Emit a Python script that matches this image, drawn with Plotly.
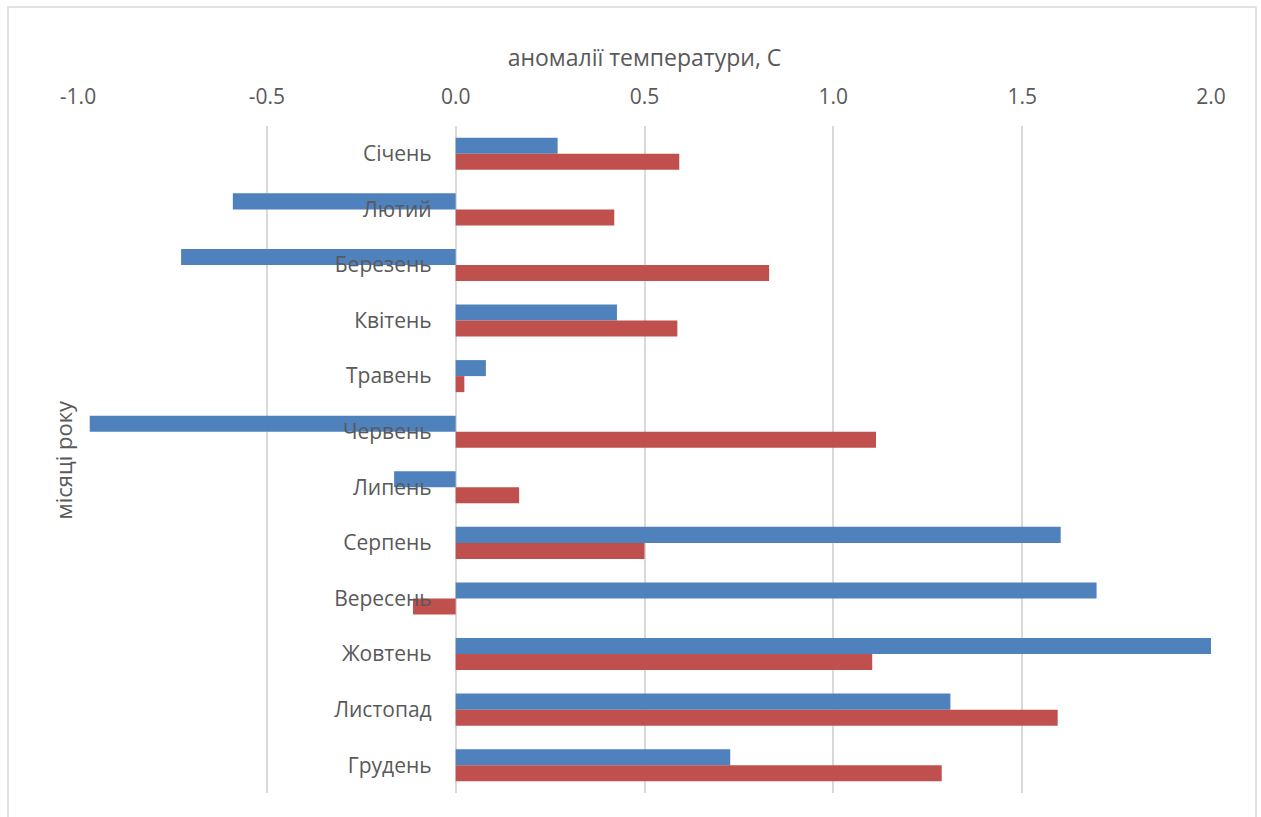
import plotly.graph_objects as go

# Місяці року (зверху вниз)
months = ["Січень", "Лютий", "Березень", "Квітень", "Травень", "Червень",
          "Липень", "Серпень", "Вересень", "Жовтень", "Листопад", "Грудень"]

# Аномалії температури, °C — дві серії
series_blue = [0.27, -0.59, -0.727, 0.427, 0.080, -0.969,
               -0.163, 1.602, 1.697, 2.005, 1.310, 0.727]
series_red = [0.592, 0.420, 0.830, 0.587, 0.023, 1.113,
              0.168, 0.500, -0.113, 1.103, 1.594, 1.287]

x_ticks = [-1.0, -0.5, 0.0, 0.5, 1.0, 1.5, 2.0]
x_tick_text = [f"{v:.1f}" for v in x_ticks]

W, H = 1261, 817
L, R, T, B = 78, 50, 126, 24
FONT = "'Open Sans', sans-serif"
TXT = "#595959"
GRID = "#d9d9d9"

fig = go.Figure()
fig.add_trace(go.Bar(y=months, x=series_blue, orientation="h",
                     marker=dict(color="#4F81BD", line=dict(width=0)),
                     name="1"))
fig.add_trace(go.Bar(y=months, x=series_red, orientation="h",
                     marker=dict(color="#C0504D", line=dict(width=0)),
                     name="2"))

pw = W - L - R
ph = H - T - B


def px_x(p):
    return (p - L) / pw


def px_y(p):
    return (H - B - p) / ph


fig.update_layout(
    width=W, height=H,
    margin=dict(l=L, r=R, t=T, b=B),
    paper_bgcolor="white", plot_bgcolor="white",
    showlegend=False,
    barmode="group", bargap=0.424, bargroupgap=0,
    font=dict(family=FONT, color=TXT, size=20),
    xaxis=dict(
        side="top", range=[-1.0, 2.0], tickvals=x_ticks, ticktext=x_tick_text,
        showgrid=True, gridcolor=GRID, gridwidth=1.5,
        zeroline=True, zerolinecolor=GRID, zerolinewidth=1.5,
        showline=False, ticks="", tickfont=dict(size=21, color=TXT),
        ticklabelstandoff=17,
        title=dict(text="аномалії температури, С", standoff=8,
                   font=dict(size=23, color=TXT)),
    ),
    yaxis=dict(
        autorange="reversed", anchor="free", position=1 / 3,
        showgrid=False, showline=False, ticks="", zeroline=False,
        tickfont=dict(size=21, color=TXT), ticklabelstandoff=24,
    ),
    annotations=[dict(
        text="місяці року", xref="paper", yref="paper",
        x=px_x(62), y=0.5, textangle=-90, showarrow=False,
        font=dict(size=22, color=TXT), xanchor="center", yanchor="middle",
    )],
    shapes=[dict(
        type="rect", xref="paper", yref="paper",
        x0=px_x(8), x1=px_x(1256), y0=px_y(H + 20), y1=px_y(7),
        line=dict(color=GRID, width=1.5), fillcolor="rgba(0,0,0,0)",
        layer="below",
    )],
)

fig.write_html("out.html")
